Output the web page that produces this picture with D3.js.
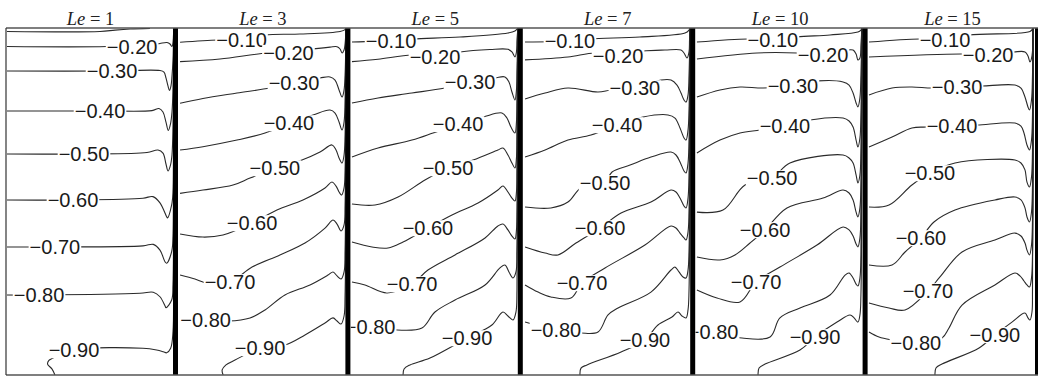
<!DOCTYPE html>
<html><head><meta charset="utf-8">
<script src="https://cdn.jsdelivr.net/npm/d3@7"></script>
<style>body{margin:0;background:#fff;}svg{display:block;}</style>
</head><body>
<svg id="chart" width="1038" height="378"></svg>
<script>
// ---- data: Lewis numbers (panels) and contour lines in cavity coords (x 0..1, y 0..2) ----
const panelLe = [1, 3, 5, 7, 10, 15];

const le1 = [
 {level:-0.1, label:null, pts:[[0,1.980],[0.557,1.980],[0.647,1.988],[0.737,1.994],[0.856,1.998]]},
 {level:-0.2, label:[0.749,1.893], pts:[[0,1.893],[0.60,1.893],[0.874,1.905],[0.916,1.911],[0.958,1.916],[0.976,1.908],[0.988,1.893],[0.994,1.914],[0.997,1.960],[1.0,2.0]]},
 {level:-0.3, label:[0.629,1.752], pts:[[0,1.752],[0.629,1.752],[0.916,1.755],[0.940,1.746],[0.952,1.712],[0.964,1.666],[0.973,1.640],[0.982,1.666],[0.988,1.723],[0.994,1.816],[0.997,1.931],[1.0,2.0]]},
 {level:-0.4, label:[0.557,1.522], pts:[[0,1.522],[0.557,1.522],[0.868,1.524],[0.910,1.536],[0.934,1.516],[0.952,1.458],[0.966,1.409],[0.979,1.447],[0.988,1.516],[0.994,1.643],[0.997,1.816],[1,2]]},
 {level:-0.5, label:[0.461,1.274], pts:[[0,1.274],[0.461,1.274],[0.838,1.282],[0.904,1.297],[0.934,1.279],[0.952,1.216],[0.964,1.176],[0.979,1.210],[0.988,1.268],[0.994,1.441],[0.997,1.700],[1,2]]},
 {level:-0.6, label:[0.395,1.009], pts:[[0,1.009],[0.395,1.009],[0.814,1.019],[0.874,1.028],[0.916,0.992],[0.956,0.912],[0.961,0.905],[0.986,0.980],[0.994,1.052],[0.997,1.300],[1,2]]},
 {level:-0.7, label:[0.287,0.738], pts:[[0,0.738],[0.287,0.738],[0.814,0.744],[0.876,0.753],[0.916,0.720],[0.946,0.653],[0.956,0.644],[0.986,0.711],[0.994,0.8],[0.997,1.2],[1,2]]},
 {level:-0.8, label:[0.192,0.461], pts:[[0,0.461],[0.192,0.461],[0.796,0.471],[0.876,0.477],[0.916,0.451],[0.946,0.399],[0.952,0.388],[0.986,0.432],[0.994,0.52],[0.997,1.0],[1,2]]},
 {level:-0.9, label:[0.401,0.144], pts:[[0.287,0],[0.269,0.035],[0.243,0.063],[0.251,0.084],[0.269,0.095],[0.401,0.144],[0.814,0.154],[0.896,0.144],[0.936,0.134],[0.956,0.128],[0.980,0.154],[0.994,0.25],[0.997,0.6],[1,2]]}
];

const le3 = [
 {level:-0.1, label:[0.372,1.931], pts:[[0.004,1.918],[0.231,1.931],[0.372,1.931],[0.513,1.960],[0.722,1.965],[0.962,1.980],[0.992,1.991],[0.998,2.0]]},
 {level:-0.2, label:[0.653,1.858], pts:[[0.004,1.806],[0.243,1.821],[0.525,1.856],[0.653,1.858],[0.782,1.877],[0.902,1.890],[0.944,1.892],[0.962,1.879],[0.974,1.856],[0.986,1.873],[0.992,1.908],[0.998,2.0]]},
 {level:-0.3, label:[0.686,1.683], pts:[[0.004,1.566],[0.141,1.594],[0.345,1.625],[0.543,1.654],[0.686,1.683],[0.842,1.712],[0.902,1.718],[0.932,1.700],[0.956,1.643],[0.974,1.602],[0.986,1.643],[0.992,1.729],[0.998,2]]},
 {level:-0.4, label:[0.656,1.452], pts:[[0.004,1.297],[0.141,1.316],[0.345,1.354],[0.513,1.395],[0.656,1.452],[0.800,1.499],[0.902,1.527],[0.932,1.510],[0.956,1.458],[0.974,1.412],[0.986,1.458],[0.992,1.585],[0.998,2]]},
 {level:-0.5, label:[0.572,1.193], pts:[[0.004,1.047],[0.141,1.066],[0.321,1.095],[0.423,1.135],[0.572,1.193],[0.734,1.239],[0.842,1.285],[0.914,1.326],[0.938,1.297],[0.956,1.251],[0.974,1.222],[0.986,1.268],[0.992,1.383],[0.998,2]]},
 {level:-0.6, label:[0.435,0.876], pts:[[0.004,0.813],[0.141,0.795],[0.261,0.807],[0.435,0.876],[0.584,0.951],[0.740,1.009],[0.872,1.078],[0.914,1.112],[0.938,1.089],[0.956,1.055],[0.971,1.037],[0.986,1.078],[0.992,1.182],[0.998,2]]},
 {level:-0.7, label:[0.303,0.536], pts:[[0.004,0.576],[0.093,0.553],[0.165,0.530],[0.303,0.536],[0.435,0.622],[0.602,0.692],[0.752,0.761],[0.872,0.847],[0.920,0.893],[0.944,0.870],[0.968,0.830],[0.986,0.865],[0.992,0.980],[0.998,2]]},
 {level:-0.8, label:[0.157,0.317], pts:[[0.004,0.317],[0.157,0.317],[0.292,0.311],[0.423,0.329],[0.513,0.375],[0.632,0.461],[0.782,0.519],[0.890,0.576],[0.920,0.594],[0.944,0.571],[0.968,0.553],[0.986,0.594],[0.992,0.720],[0.998,2]]},
 {level:-0.9, label:[0.483,0.156], pts:[[0.262,0],[0.256,0.029],[0.279,0.058],[0.333,0.086],[0.483,0.156],[0.632,0.173],[0.752,0.231],[0.872,0.300],[0.920,0.329],[0.944,0.311],[0.968,0.294],[0.986,0.340],[0.992,0.461],[0.998,2]]}
];

const le5 = [
 {level:-0.1, label:[0.235,1.927], pts:[[0.001,1.919],[0.235,1.927],[0.366,1.937],[0.648,1.948],[0.935,1.971],[0.977,1.983],[0.995,2]]},
 {level:-0.2, label:[0.498,1.833], pts:[[0.001,1.806],[0.157,1.820],[0.360,1.844],[0.498,1.833],[0.648,1.862],[0.827,1.876],[0.935,1.877],[0.959,1.862],[0.977,1.833],[0.986,1.862],[0.989,1.931],[0.995,2]]},
 {level:-0.3, label:[0.708,1.689], pts:[[0.001,1.568],[0.157,1.597],[0.360,1.625],[0.558,1.654],[0.708,1.689],[0.857,1.712],[0.917,1.718],[0.941,1.689],[0.959,1.631],[0.977,1.585],[0.986,1.643],[0.989,1.758],[0.995,2]]},
 {level:-0.4, label:[0.636,1.447], pts:[[0.001,1.256],[0.157,1.308],[0.360,1.354],[0.486,1.395],[0.636,1.447],[0.786,1.487],[0.899,1.510],[0.929,1.481],[0.953,1.429],[0.977,1.395],[0.986,1.458],[0.989,1.585],[0.995,2]]},
 {level:-0.5, label:[0.576,1.193], pts:[[0.001,0.986],[0.139,0.980],[0.277,1.026],[0.438,1.124],[0.576,1.193],[0.726,1.239],[0.875,1.297],[0.905,1.308],[0.935,1.268],[0.959,1.222],[0.977,1.193],[0.986,1.251],[0.989,1.383],[0.995,2]]},
 {level:-0.6, label:[0.456,0.847], pts:[[0.001,0.767],[0.121,0.738],[0.217,0.732],[0.307,0.767],[0.456,0.847],[0.600,0.922],[0.756,0.991],[0.875,1.066],[0.905,1.089],[0.935,1.055],[0.959,1.020],[0.977,1.003],[0.986,1.055],[0.989,1.182],[0.995,2]]},
 {level:-0.7, label:[0.361,0.524], pts:[[0.001,0.536],[0.079,0.519],[0.211,0.473],[0.361,0.524],[0.456,0.605],[0.618,0.692],[0.798,0.790],[0.875,0.859],[0.905,0.870],[0.935,0.836],[0.959,0.801],[0.977,0.784],[0.986,0.836],[0.989,0.951],[0.995,2]]},
 {level:-0.8, label:[0.110,0.277], pts:[[0.001,0.277],[0.110,0.277],[0.271,0.259],[0.420,0.271],[0.498,0.363],[0.618,0.432],[0.798,0.519],[0.887,0.617],[0.917,0.634],[0.941,0.594],[0.965,0.559],[0.983,0.594],[0.989,0.720],[0.995,2]]},
 {level:-0.9, label:[0.690,0.213], pts:[[0.307,0],[0.313,0.035],[0.348,0.058],[0.468,0.098],[0.690,0.213],[0.839,0.288],[0.905,0.363],[0.935,0.340],[0.965,0.317],[0.983,0.363],[0.989,0.490],[0.995,2]]}
];

const le7 = [
 {level:-0.1, label:[0.274,1.925], pts:[[0.005,1.919],[0.274,1.925],[0.394,1.937],[0.693,1.948],[0.963,1.971],[0.987,1.988],[0.993,2]]},
 {level:-0.2, label:[0.562,1.839], pts:[[0.005,1.816],[0.262,1.833],[0.424,1.856],[0.562,1.839],[0.711,1.867],[0.843,1.873],[0.939,1.873],[0.957,1.856],[0.975,1.827],[0.987,1.862],[0.990,1.931],[0.993,2]]},
 {level:-0.3, label:[0.663,1.654], pts:[[0.005,1.591],[0.125,1.625],[0.262,1.654],[0.442,1.631],[0.520,1.643],[0.663,1.654],[0.819,1.700],[0.879,1.700],[0.915,1.671],[0.939,1.625],[0.957,1.585],[0.969,1.573],[0.981,1.614],[0.987,1.729],[0.993,2]]},
 {level:-0.4, label:[0.556,1.441], pts:[[0.005,1.256],[0.125,1.297],[0.262,1.354],[0.400,1.383],[0.556,1.441],[0.711,1.487],[0.861,1.499],[0.903,1.481],[0.933,1.424],[0.957,1.366],[0.969,1.354],[0.981,1.412],[0.987,1.527],[0.993,2]]},
 {level:-0.5, label:[0.484,1.107], pts:[[0.005,0.968],[0.160,0.963],[0.262,0.997],[0.340,1.078],[0.484,1.107],[0.526,1.170],[0.634,1.210],[0.759,1.256],[0.879,1.285],[0.909,1.268],[0.933,1.228],[0.957,1.176],[0.969,1.164],[0.981,1.222],[0.987,1.354],[0.993,2]]},
 {level:-0.6, label:[0.454,0.847], pts:[[0.005,0.738],[0.125,0.703],[0.202,0.692],[0.310,0.761],[0.454,0.847],[0.580,0.934],[0.759,0.997],[0.879,1.066],[0.909,1.055],[0.933,1.020],[0.957,0.974],[0.969,0.963],[0.981,1.020],[0.987,1.153],[0.993,2]]},
 {level:-0.7, label:[0.346,0.530], pts:[[0.005,0.519],[0.083,0.478],[0.160,0.450],[0.280,0.444],[0.346,0.530],[0.484,0.617],[0.723,0.749],[0.879,0.859],[0.909,0.847],[0.933,0.818],[0.957,0.790],[0.969,0.778],[0.981,0.824],[0.987,0.951],[0.993,2]]},
 {level:-0.8, label:[0.190,0.259], pts:[[0.005,0.305],[0.190,0.259],[0.340,0.242],[0.442,0.248],[0.502,0.346],[0.562,0.386],[0.759,0.478],[0.879,0.605],[0.903,0.622],[0.927,0.594],[0.951,0.565],[0.969,0.559],[0.981,0.605],[0.987,0.720],[0.993,2]]},
 {level:-0.9, label:[0.723,0.202], pts:[[0.334,0],[0.340,0.040],[0.376,0.058],[0.580,0.133],[0.723,0.202],[0.801,0.288],[0.885,0.334],[0.921,0.363],[0.945,0.340],[0.969,0.329],[0.981,0.375],[0.987,0.490],[0.993,2]]}
];

const le10 = [
 {level:-0.1, label:[0.457,1.931], pts:[[0.002,1.919],[0.308,1.937],[0.457,1.931],[0.601,1.948],[0.799,1.960],[0.966,1.977],[0.984,1.988],[0.990,2]]},
 {level:-0.2, label:[0.757,1.844], pts:[[0.002,1.821],[0.362,1.856],[0.601,1.856],[0.757,1.844],[0.901,1.873],[0.937,1.873],[0.955,1.850],[0.966,1.816],[0.978,1.827],[0.984,1.902],[0.990,2]]},
 {level:-0.3, label:[0.577,1.666], pts:[[0.002,1.602],[0.140,1.643],[0.260,1.660],[0.398,1.654],[0.577,1.666],[0.727,1.695],[0.877,1.689],[0.913,1.671],[0.937,1.625],[0.955,1.568],[0.966,1.545],[0.978,1.597],[0.984,1.729],[0.990,2]]},
 {level:-0.4, label:[0.529,1.435], pts:[[0.002,1.280],[0.140,1.354],[0.260,1.395],[0.380,1.412],[0.529,1.435],[0.679,1.470],[0.877,1.481],[0.913,1.464],[0.937,1.429],[0.955,1.354],[0.966,1.314],[0.978,1.366],[0.984,1.499],[0.990,2]]},
 {level:-0.5, label:[0.452,1.135], pts:[[0.002,0.939],[0.158,0.951],[0.290,1.095],[0.452,1.135],[0.559,1.222],[0.877,1.268],[0.913,1.251],[0.937,1.222],[0.955,1.153],[0.966,1.107],[0.978,1.153],[0.984,1.297],[0.990,2]]},
 {level:-0.6, label:[0.410,0.836], pts:[[0.002,0.680],[0.140,0.663],[0.230,0.692],[0.320,0.761],[0.410,0.836],[0.541,0.963],[0.757,1.020],[0.877,1.066],[0.913,1.049],[0.937,1.009],[0.955,0.939],[0.966,0.911],[0.978,0.963],[0.984,1.095],[0.990,2]]},
 {level:-0.7, label:[0.356,0.536], pts:[[0.002,0.490],[0.122,0.444],[0.260,0.421],[0.356,0.536],[0.499,0.622],[0.721,0.749],[0.877,0.853],[0.913,0.836],[0.937,0.801],[0.955,0.755],[0.966,0.738],[0.978,0.790],[0.984,0.922],[0.990,2]]},
 {level:-0.8, label:[0.099,0.248], pts:[[0.002,0.248],[0.099,0.248],[0.272,0.213],[0.440,0.219],[0.499,0.329],[0.619,0.386],[0.799,0.461],[0.889,0.576],[0.913,0.588],[0.937,0.559],[0.955,0.524],[0.966,0.513],[0.978,0.559],[0.984,0.692],[0.990,2]]},
 {level:-0.9, label:[0.709,0.219], pts:[[0.368,0],[0.374,0.040],[0.410,0.063],[0.619,0.144],[0.709,0.219],[0.841,0.305],[0.919,0.346],[0.943,0.329],[0.966,0.305],[0.978,0.346],[0.984,0.461],[0.990,2]]}
];

const le15 = [
 {level:-0.1, label:[0.455,1.931], pts:[[0,1.919],[0.305,1.937],[0.455,1.931],[0.599,1.960],[0.964,1.980],[0.982,2]]},
 {level:-0.2, label:[0.713,1.844], pts:[[0,1.833],[0.557,1.850],[0.713,1.844],[0.868,1.862],[0.934,1.862],[0.952,1.839],[0.964,1.804],[0.976,1.839],[0.982,2]]},
 {level:-0.3, label:[0.527,1.660], pts:[[0,1.614],[0.138,1.654],[0.257,1.660],[0.377,1.654],[0.527,1.660],[0.677,1.666],[0.874,1.671],[0.910,1.654],[0.934,1.602],[0.952,1.545],[0.961,1.527],[0.973,1.585],[0.979,1.729],[0.982,2]]},
 {level:-0.4, label:[0.497,1.435], pts:[[0,1.314],[0.138,1.372],[0.257,1.424],[0.347,1.429],[0.497,1.435],[0.647,1.441],[0.874,1.452],[0.910,1.435],[0.928,1.395],[0.946,1.326],[0.961,1.297],[0.973,1.354],[0.979,1.499],[0.982,2]]},
 {level:-0.5, label:[0.365,1.164], pts:[[0,0.968],[0.120,0.980],[0.257,1.095],[0.365,1.164],[0.515,1.222],[0.874,1.239],[0.910,1.222],[0.934,1.182],[0.946,1.112],[0.961,1.084],[0.973,1.141],[0.979,1.297],[0.982,2]]},
 {level:-0.6, label:[0.311,0.790], pts:[[0,0.634],[0.138,0.634],[0.216,0.709],[0.311,0.790],[0.389,0.882],[0.515,0.951],[0.754,1.009],[0.874,1.026],[0.910,1.009],[0.934,0.963],[0.946,0.911],[0.961,0.882],[0.973,0.939],[0.979,1.095],[0.982,2]]},
 {level:-0.7, label:[0.353,0.484], pts:[[0,0.415],[0.120,0.386],[0.216,0.375],[0.353,0.484],[0.425,0.565],[0.557,0.709],[0.754,0.778],[0.874,0.818],[0.910,0.801],[0.934,0.761],[0.946,0.720],[0.961,0.692],[0.973,0.749],[0.979,0.893],[0.982,2]]},
 {level:-0.8, label:[0.281,0.184], pts:[[0,0.248],[0.060,0.219],[0.138,0.202],[0.281,0.184],[0.437,0.213],[0.479,0.271],[0.557,0.403],[0.754,0.519],[0.874,0.588],[0.904,0.571],[0.928,0.542],[0.946,0.519],[0.961,0.507],[0.973,0.559],[0.979,0.692],[0.982,2]]},
 {level:-0.9, label:[0.754,0.231], pts:[[0.395,0],[0.401,0.040],[0.437,0.063],[0.659,0.156],[0.754,0.231],[0.856,0.305],[0.934,0.357],[0.952,0.329],[0.964,0.317],[0.976,0.363],[0.979,0.490],[0.982,2]]}
];

const panelContours = [le1, le3, le5, le7, le10, le15];

// ---- layout ----
const frameTop = 28, frameBottom = 375, frameLeft = 6, frameRight = 1038;
const firstLeft = 7, pitch = 172.4, panelW = 167;
const fmt = d3.format(".2f");

const svg = d3.select("#chart");
const defs = svg.append("defs");
const wallLayer = [];

panelLe.forEach((le, i) => {
  const L = firstLeft + pitch * i;
  const x = d3.scaleLinear().domain([0, 1]).range([L, L + panelW]);
  const y = d3.scaleLinear().domain([0, 2]).range([frameBottom, frameTop]);
  const clipId = "clip" + i;
  defs.append("clipPath").attr("id", clipId).append("rect")
    .attr("x", L - 1).attr("y", frameTop).attr("width", panelW + 3).attr("height", frameBottom - frameTop);
  const g = svg.append("g").attr("clip-path", `url(#${clipId})`);
  const line = d3.line().x(d => x(d[0])).y(d => y(d[1])).curve(d3.curveCatmullRom.alpha(0.5));
  const contours = panelContours[i];
  g.selectAll("path.c").data(contours).join("path")
    .attr("class", "c").attr("d", d => line(d.pts))
    .attr("fill", "none").attr("stroke", "#2a2a2a").attr("stroke-width", 1.1);

  const labs = g.selectAll("g.lab").data(contours.filter(d => d.label)).join("g").attr("class", "lab");
  labs.each(function(d) {
    const lg = d3.select(this);
    const t = lg.append("text")
      .attr("x", x(d.label[0])).attr("y", y(d.label[1]))
      .attr("dy", "0.36em").attr("text-anchor", "middle")
      .attr("font-family", "'Liberation Sans', Arial, sans-serif")
      .attr("font-size", 20).attr("fill", "#1a1a1a")
      .text(fmt(d.level));
    const bb = t.node().getBBox();
    lg.insert("rect", "text").attr("x", bb.x - 1).attr("y", bb.y + 3)
      .attr("width", bb.width + 2).attr("height", bb.height - 6).attr("fill", "#fff");
  });

  // title
  const title = svg.append("text")
    .attr("x", x(0.5)).attr("y", 24.5).attr("text-anchor", "middle")
    .attr("font-family", "'Liberation Serif', 'Times New Roman', serif")
    .attr("font-size", 18.5).attr("fill", "#222");
  title.append("tspan").attr("font-style", "italic").text("Le");
  title.append("tspan").text(" = " + le);

  wallLayer.push(x(1) - 1);
});

// hot wall bands (dense boundary-layer contours) on the right side of each panel
svg.selectAll("rect.wall").data(wallLayer).join("rect").attr("class", "wall")
  .attr("x", d => d).attr("y", frameTop).attr("width", 5)
  .attr("height", frameBottom - frameTop).attr("fill", "#000");

// frame
svg.append("line").attr("x1", frameLeft).attr("x2", frameRight).attr("y1", frameTop).attr("y2", frameTop)
  .attr("stroke", "#555").attr("stroke-width", 1.5);
svg.append("line").attr("x1", frameLeft).attr("x2", frameRight).attr("y1", frameBottom).attr("y2", frameBottom)
  .attr("stroke", "#555").attr("stroke-width", 1.5);
svg.append("line").attr("x1", frameLeft).attr("x2", frameLeft).attr("y1", frameTop).attr("y2", frameBottom)
  .attr("stroke", "#333").attr("stroke-width", 1.2);
</script>
</body></html>
